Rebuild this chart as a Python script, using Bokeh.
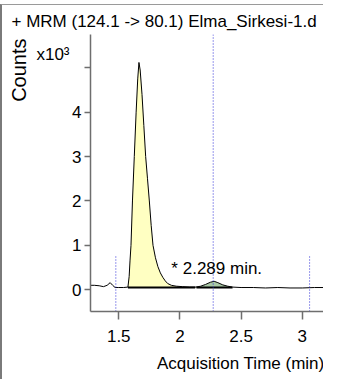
from bokeh.plotting import figure
from bokeh.models import Range1d, FixedTicker, Label, LinearAxis, Title
from bokeh.embed import file_html
from bokeh.resources import INLINE

# ---- data (counts in x10^3) ----
time_min = [1.269, 1.30, 1.34, 1.375, 1.405, 1.43, 1.45, 1.47, 1.50, 1.54,
            1.575, 1.585, 1.592, 1.600, 1.612, 1.627, 1.642, 1.655, 1.665, 1.675,
            1.69, 1.705, 1.72, 1.735, 1.75, 1.765, 1.78, 1.80, 1.82, 1.84,
            1.86, 1.88, 1.90, 1.93, 1.97, 2.02, 2.08, 2.13, 2.17, 2.21,
            2.25, 2.28, 2.31, 2.35, 2.39, 2.43, 2.50, 2.60, 2.70, 2.80,
            2.90, 3.00, 3.10, 3.20]
counts_k = [0.10, 0.10, 0.09, 0.07, 0.10, 0.16, 0.10, 0.05, 0.05, 0.05,
            0.06, 0.30, 0.65, 1.00, 2.00, 3.00, 4.00, 4.75, 5.12, 4.95,
            4.40, 3.70, 3.00, 2.50, 2.00, 1.45, 1.00, 0.72, 0.52, 0.38,
            0.28, 0.20, 0.14, 0.10, 0.08, 0.07, 0.06, 0.06, 0.08, 0.12,
            0.17, 0.19, 0.16, 0.11, 0.08, 0.06, 0.05, 0.05, 0.04, 0.05,
            0.04, 0.04, 0.05, 0.05]

peak1_range = [1.575, 2.13]
peak2_range = [2.13, 2.43]
baseline_k = 0.05
marker_x = [1.476, 2.272, 3.06]
marker_top = [0.77, 5.75, 0.77]

x_ticks = [1.5, 2, 2.5, 3]
x_tick_labels = ["1.5", "2", "2.5", "3"]
y_ticks = [0, 1, 2, 3, 4, 5]
y_tick_labels = ["0", "1", "2", "3", "4", ""]
x_range = (1.269, 3.19)
y_range = (-0.49, 5.75)
exp_shift = 0.3  # exponent label sits a little above the 5 tick

title_text = "+ MRM (124.1 -> 80.1) Elma_Sirkesi-1.d"
y_title = "Counts"
x_title = "Acquisition Time (min)"
exponent_text = "x10\u00b3"
peak_label = "* 2.289 min."
peak_label_pos = (1.93, 0.47)
FONT = "Liberation Sans"

p = figure(width=323, height=375, output_backend="svg", toolbar_location=None,
           x_range=Range1d(*x_range), y_range=Range1d(*y_range),
           min_border_left=79, min_border_right=0, min_border_top=28,
           min_border_bottom=69)
p.styles = {"margin-top": "4px",
            "border-left": "2px solid #7a7a7a", "border-top": "1px solid #9a9a9a"}
p.outline_line_color = None
p.xgrid.visible = False
p.ygrid.visible = False
p.extra_y_ranges = {"exp": Range1d(y_range[0] - exp_shift, y_range[1] - exp_shift)}

def sub(rng):
    xs, ys = [], []
    for t, c in zip(time_min, counts_k):
        if rng[0] <= t <= rng[1]:
            xs.append(t)
            ys.append(c)
    return xs, ys

x1, y1 = sub(peak1_range)
p.varea(x=x1, y1=[baseline_k] * len(x1), y2=y1, fill_color="#ffffc2")
x2, y2 = sub(peak2_range)
p.varea(x=x2, y1=[baseline_k] * len(x2), y2=y2, fill_color="#a9c8a6")

p.line(x=[peak1_range[0], peak1_range[1] - 0.005], y=[baseline_k, baseline_k], line_color="black", line_width=2)
p.line(x=[peak2_range[0] + 0.005, peak2_range[1]], y=[baseline_k, baseline_k], line_color="black", line_width=2)

p.line(x=time_min, y=counts_k, line_color="black", line_width=1)

p.segment(x0=marker_x, y0=[y_range[0]] * len(marker_x), x1=marker_x, y1=marker_top,
          line_color="#3030d8", line_width=1, line_dash="1 2")

def style_axis(ax):
    ax.axis_line_color = "#6e6e6e"
    ax.axis_line_width = 1.5
    ax.major_tick_line_color = "#6e6e6e"
    ax.major_tick_line_width = 1.5
    ax.minor_tick_line_color = None
    ax.major_tick_in = 0
    ax.major_label_text_font = FONT
    ax.major_label_text_font_size = "17px"
    ax.major_label_text_color = "black"

for ax in (p.xaxis, p.yaxis):
    style_axis(ax)

p.xaxis.ticker = FixedTicker(ticks=x_ticks)
p.xaxis.major_label_overrides = dict(zip(x_ticks, x_tick_labels))
p.xaxis.major_tick_out = 8
p.xaxis.major_label_standoff = 10
p.yaxis.ticker = FixedTicker(ticks=y_ticks)
p.yaxis.major_label_overrides = dict(zip(y_ticks, y_tick_labels))
p.yaxis.major_tick_out = 6
p.yaxis.major_label_standoff = 3

exp_axis = LinearAxis(y_range_name="exp", ticker=FixedTicker(ticks=[y_ticks[-1]]),
                      major_label_overrides={y_ticks[-1]: exponent_text})
style_axis(exp_axis)
exp_axis.axis_line_color = None
exp_axis.major_tick_line_color = None
exp_axis.major_tick_out = 0
exp_axis.major_label_standoff = 0
p.add_layout(exp_axis, "left")

p.title.text = title_text
p.title.text_font = FONT
p.title.text_font_size = "17px"
p.title.text_font_style = "normal"
p.title.text_color = "black"
p.title.align = "left"
p.title.offset = -79
p.title.standoff = 8

p.add_layout(Title(text=y_title, text_font=FONT, text_font_size="20px", text_color="black",
                   text_font_style="normal", align="right", offset=4, standoff=7), "left")
p.add_layout(Title(text=x_title, text_font=FONT, text_font_size="17px", text_color="black",
                   text_font_style="normal", align="right", offset=1, standoff=15), "below")

p.add_layout(Label(x=peak_label_pos[0], y=peak_label_pos[1], text=peak_label,
                   text_font=FONT, text_font_size="17px", text_baseline="middle",
                   text_align="left", text_color="black"))

open("out.html", "w").write(file_html(p, INLINE))
